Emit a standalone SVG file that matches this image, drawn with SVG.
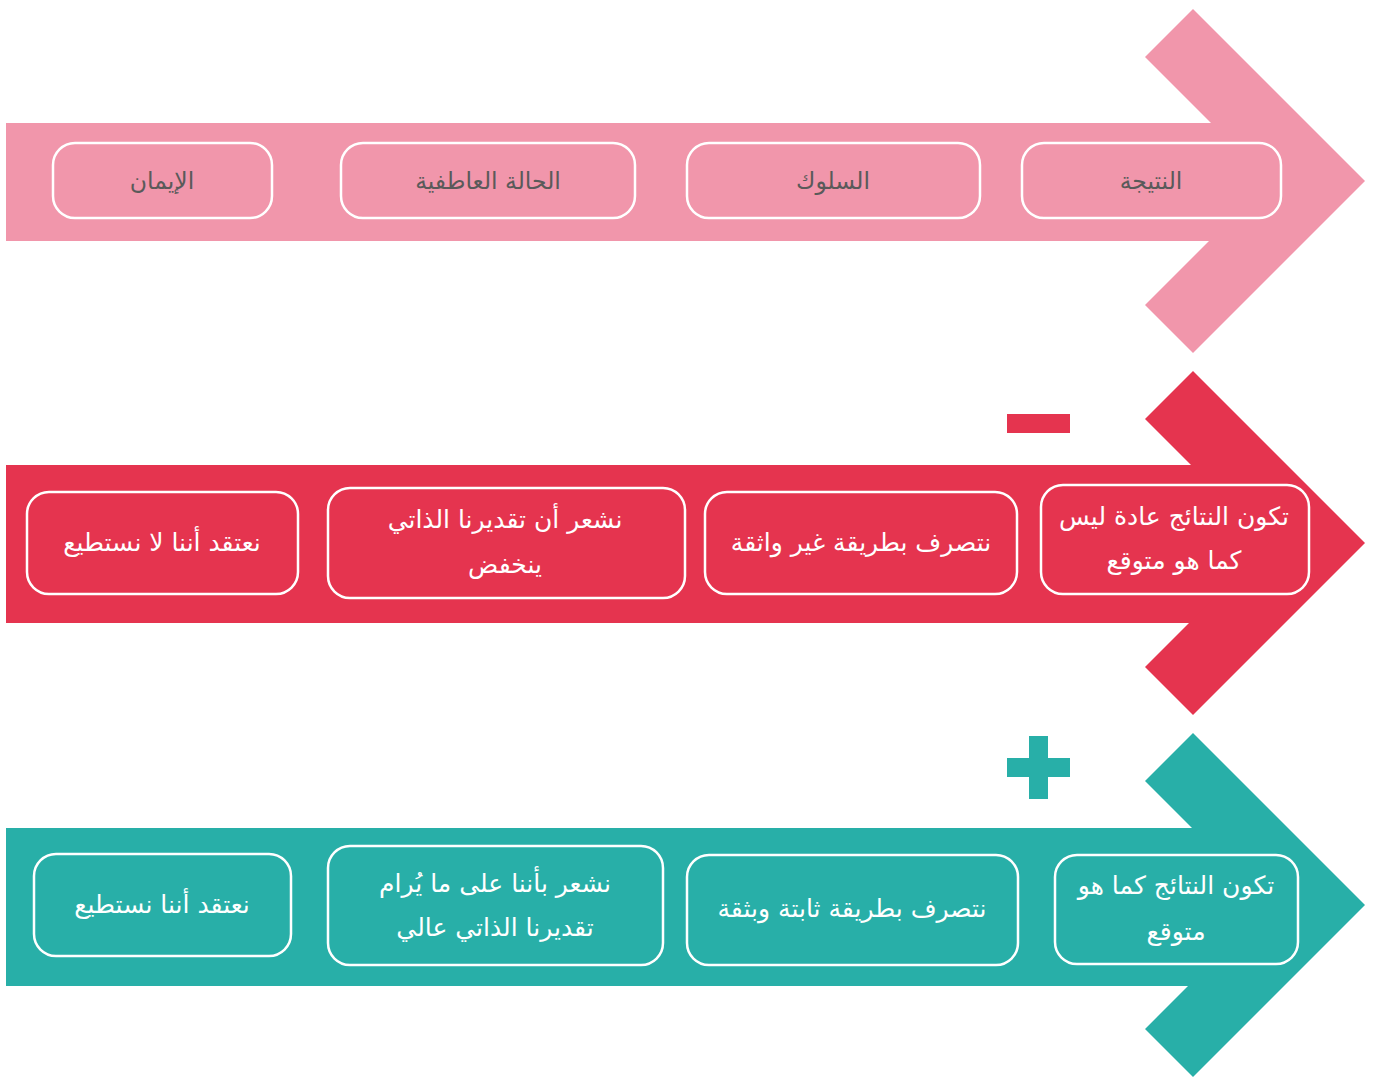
<svg xmlns="http://www.w3.org/2000/svg" width="1378" height="1077" viewBox="0 0 1378 1077">
<style>
.box{fill:none;stroke:#ffffff;stroke-width:2.5}
.t{font-family:"DejaVu Sans","Liberation Sans",sans-serif;font-size:25px;text-anchor:middle;direction:rtl}
.pk{fill:#5a5a5a;font-size:23.5px}
.wt{fill:#ffffff}
</style>
<rect width="1378" height="1077" fill="#ffffff"/>
<g id="arrow-pink" fill="#F196AB">
<rect x="6" y="123" width="1263" height="118"/>
<polygon points="1193,9 1365,181 1193,353 1145,305 1269,181 1145,57"/>
</g>
<g id="arrow-red" fill="#E5344F">
<rect x="6" y="465" width="1263" height="158"/>
<polygon points="1193,371 1365,543 1193,715 1145,667 1269,543 1145,419"/>
<rect id="minus" x="1007" y="414" width="63" height="19"/>
</g>
<g id="arrow-teal" fill="#28AFA8">
<rect x="6" y="828" width="1263" height="158"/>
<polygon points="1193,733 1365,905 1193,1077 1145,1029 1269,905 1145,781"/>
<path id="plus" d="M1029,736h19v22h22v19h-22v22h-19v-22h-22v-19h22z"/>
</g>
<g id="connectors"></g>
<g id="n1"><rect class="box" x="53" y="143" width="219" height="75" rx="22"/><text class="t pk" x="162" y="189">الإيمان</text></g>
<g id="n2"><rect class="box" x="341" y="143" width="294" height="75" rx="22"/><text class="t pk" x="488" y="189">الحالة العاطفية</text></g>
<g id="n3"><rect class="box" x="687" y="143" width="293" height="75" rx="22"/><text class="t pk" x="833" y="189">السلوك</text></g>
<g id="n4"><rect class="box" x="1022" y="143" width="259" height="75" rx="22"/><text class="t pk" x="1151" y="189">النتيجة</text></g>

<g id="n5"><rect class="box" x="27" y="492" width="271" height="102" rx="22"/><text class="t wt" x="162" y="551">نعتقد أننا لا نستطيع</text></g>
<g id="n6"><rect class="box" x="328" y="488" width="357" height="110" rx="22"/><text class="t wt" x="505" y="528">نشعر أن تقديرنا الذاتي</text><text class="t wt" x="505" y="573">ينخفض</text></g>
<g id="n7"><rect class="box" x="705" y="492" width="312" height="102" rx="22"/><text class="t wt" x="861" y="551">نتصرف بطريقة غير واثقة</text></g>
<g id="n8"><rect class="box" x="1041" y="485" width="268" height="109" rx="22"/><text class="t wt" x="1174" y="525">تكون النتائج عادة ليس</text><text class="t wt" x="1174" y="569">كما هو متوقع</text></g>

<g id="n9"><rect class="box" x="34" y="854" width="257" height="102" rx="22"/><text class="t wt" x="162" y="913">نعتقد أننا نستطيع</text></g>
<g id="n10"><rect class="box" x="328" y="846" width="335" height="119" rx="22"/><text class="t wt" x="495" y="892">نشعر بأننا على ما يُرام</text><text class="t wt" x="495" y="936">تقديرنا الذاتي عالي</text></g>
<g id="n11"><rect class="box" x="687" y="855" width="331" height="110" rx="22"/><text class="t wt" x="852" y="917">نتصرف بطريقة ثابتة وبثقة</text></g>
<g id="n12"><rect class="box" x="1055" y="855" width="243" height="109" rx="22"/><text class="t wt" x="1176" y="894">تكون النتائج كما هو</text><text class="t wt" x="1176" y="940">متوقع</text></g>
</svg>
